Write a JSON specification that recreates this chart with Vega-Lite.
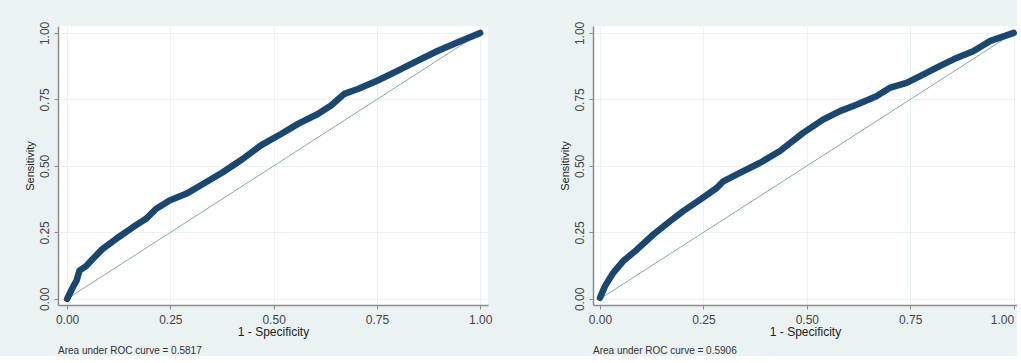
{
  "$schema": "https://vega.github.io/schema/vega-lite/v6.json",
  "background": "#eaf2f3",
  "padding": {"left": 24, "top": 21, "right": 0, "bottom": 0},
  "spacing": 67,
  "datasets": {
    "ref": [{"fpr": 0, "tpr": 0}, {"fpr": 1, "tpr": 1}],
    "rocA": [
      {"fpr": 0, "tpr": 0}, {"fpr": 0.002, "tpr": 0.006}, {"fpr": 0.014, "tpr": 0.044},
      {"fpr": 0.023, "tpr": 0.069}, {"fpr": 0.03, "tpr": 0.106}, {"fpr": 0.046, "tpr": 0.123},
      {"fpr": 0.062, "tpr": 0.15}, {"fpr": 0.086, "tpr": 0.188}, {"fpr": 0.119, "tpr": 0.226},
      {"fpr": 0.159, "tpr": 0.269}, {"fpr": 0.191, "tpr": 0.301}, {"fpr": 0.215, "tpr": 0.338},
      {"fpr": 0.248, "tpr": 0.37}, {"fpr": 0.288, "tpr": 0.395}, {"fpr": 0.329, "tpr": 0.432},
      {"fpr": 0.377, "tpr": 0.476}, {"fpr": 0.425, "tpr": 0.526}, {"fpr": 0.47, "tpr": 0.578},
      {"fpr": 0.518, "tpr": 0.62}, {"fpr": 0.559, "tpr": 0.658}, {"fpr": 0.607, "tpr": 0.695},
      {"fpr": 0.639, "tpr": 0.727}, {"fpr": 0.671, "tpr": 0.771}, {"fpr": 0.704, "tpr": 0.789},
      {"fpr": 0.752, "tpr": 0.821}, {"fpr": 0.801, "tpr": 0.858}, {"fpr": 0.849, "tpr": 0.896},
      {"fpr": 0.898, "tpr": 0.933}, {"fpr": 0.946, "tpr": 0.965}, {"fpr": 1, "tpr": 1}
    ],
    "rocB": [
      {"fpr": 0, "tpr": 0.004}, {"fpr": 0.012, "tpr": 0.048}, {"fpr": 0.032, "tpr": 0.098},
      {"fpr": 0.056, "tpr": 0.142}, {"fpr": 0.089, "tpr": 0.185}, {"fpr": 0.129, "tpr": 0.242},
      {"fpr": 0.169, "tpr": 0.292}, {"fpr": 0.201, "tpr": 0.33}, {"fpr": 0.242, "tpr": 0.373},
      {"fpr": 0.282, "tpr": 0.417}, {"fpr": 0.298, "tpr": 0.442}, {"fpr": 0.338, "tpr": 0.474},
      {"fpr": 0.386, "tpr": 0.511}, {"fpr": 0.435, "tpr": 0.556}, {"fpr": 0.459, "tpr": 0.585},
      {"fpr": 0.491, "tpr": 0.624}, {"fpr": 0.539, "tpr": 0.674}, {"fpr": 0.58, "tpr": 0.706},
      {"fpr": 0.62, "tpr": 0.73}, {"fpr": 0.668, "tpr": 0.762}, {"fpr": 0.7, "tpr": 0.793},
      {"fpr": 0.741, "tpr": 0.812}, {"fpr": 0.781, "tpr": 0.843}, {"fpr": 0.821, "tpr": 0.875},
      {"fpr": 0.862, "tpr": 0.906}, {"fpr": 0.902, "tpr": 0.931}, {"fpr": 0.942, "tpr": 0.969},
      {"fpr": 1, "tpr": 1}
    ]
  },
  "config": {
    "view": {"fill": "white", "stroke": null},
    "axis": {
      "domainColor": "#8c8c8c", "domainWidth": 1.5, "tickColor": "#8c8c8c", "tickSize": 4, "tickWidth": 1,
      "gridColor": "#eaf2f3", "gridWidth": 1,
      "labelFont": "Liberation Sans", "labelFontSize": 12, "labelColor": "#444444",
      "titleFont": "Liberation Sans", "titleFontSize": 12, "titleFontWeight": "normal", "titleColor": "#222222"
    },
    "axisX": {"labelPadding": 5, "titlePadding": 1},
    "axisY": {"labelAngle": -90, "labelAlign": "center", "labelBaseline": "bottom", "labelPadding": 3, "titlePadding": 3, "titleFontSize": 11},
    "title": {"font": "Liberation Sans", "fontSize": 10, "fontWeight": "normal", "color": "#333333", "offset": 9, "orient": "bottom", "anchor": "start", "frame": "group"}
  },
  "hconcat": [
    {
      "width": 430, "height": 279,
      "title": {"text": "Area under ROC curve = 0.5817"},
      "layer": [
        {
          "data": {"name": "ref"},
          "mark": {"type": "line", "color": "#86ad9c", "strokeWidth": 1},
          "encoding": {
            "x": {"field": "fpr", "type": "quantitative", "scale": {"domain": [-0.022, 1.019], "nice": false, "zero": false}, "axis": {"values": [0, 0.25, 0.5, 0.75, 1], "format": ".2f", "title": "1 - Specificity"}},
            "y": {"field": "tpr", "type": "quantitative", "scale": {"domain": [-0.023, 1.026], "nice": false, "zero": false}, "axis": {"values": [0, 0.25, 0.5, 0.75, 1], "format": ".2f", "title": "Sensitivity"}}
          }
        },
        {
          "data": {"name": "rocA"},
          "mark": {"type": "line", "color": "#1a476f", "strokeWidth": 6.5, "strokeCap": "round", "strokeJoin": "round"},
          "encoding": {
            "x": {"field": "fpr", "type": "quantitative"},
            "y": {"field": "tpr", "type": "quantitative"}
          }
        }
      ]
    },
    {
      "width": 424, "height": 279,
      "title": {"text": "Area under ROC curve = 0.5906"},
      "layer": [
        {
          "data": {"name": "ref"},
          "mark": {"type": "line", "color": "#86ad9c", "strokeWidth": 1},
          "encoding": {
            "x": {"field": "fpr", "type": "quantitative", "scale": {"domain": [-0.017, 1.008], "nice": false, "zero": false}, "axis": {"values": [0, 0.25, 0.5, 0.75, 1], "format": ".2f", "title": "1 - Specificity", "labelAlign": {"condition": {"test": "datum.value == 1", "value": "right"}, "value": "center"}}},
            "y": {"field": "tpr", "type": "quantitative", "scale": {"domain": [-0.023, 1.026], "nice": false, "zero": false}, "axis": {"values": [0, 0.25, 0.5, 0.75, 1], "format": ".2f", "title": "Sensitivity"}}
          }
        },
        {
          "data": {"name": "rocB"},
          "mark": {"type": "line", "color": "#1a476f", "strokeWidth": 6.5, "strokeCap": "round", "strokeJoin": "round"},
          "encoding": {
            "x": {"field": "fpr", "type": "quantitative"},
            "y": {"field": "tpr", "type": "quantitative"}
          }
        }
      ]
    }
  ]
}
